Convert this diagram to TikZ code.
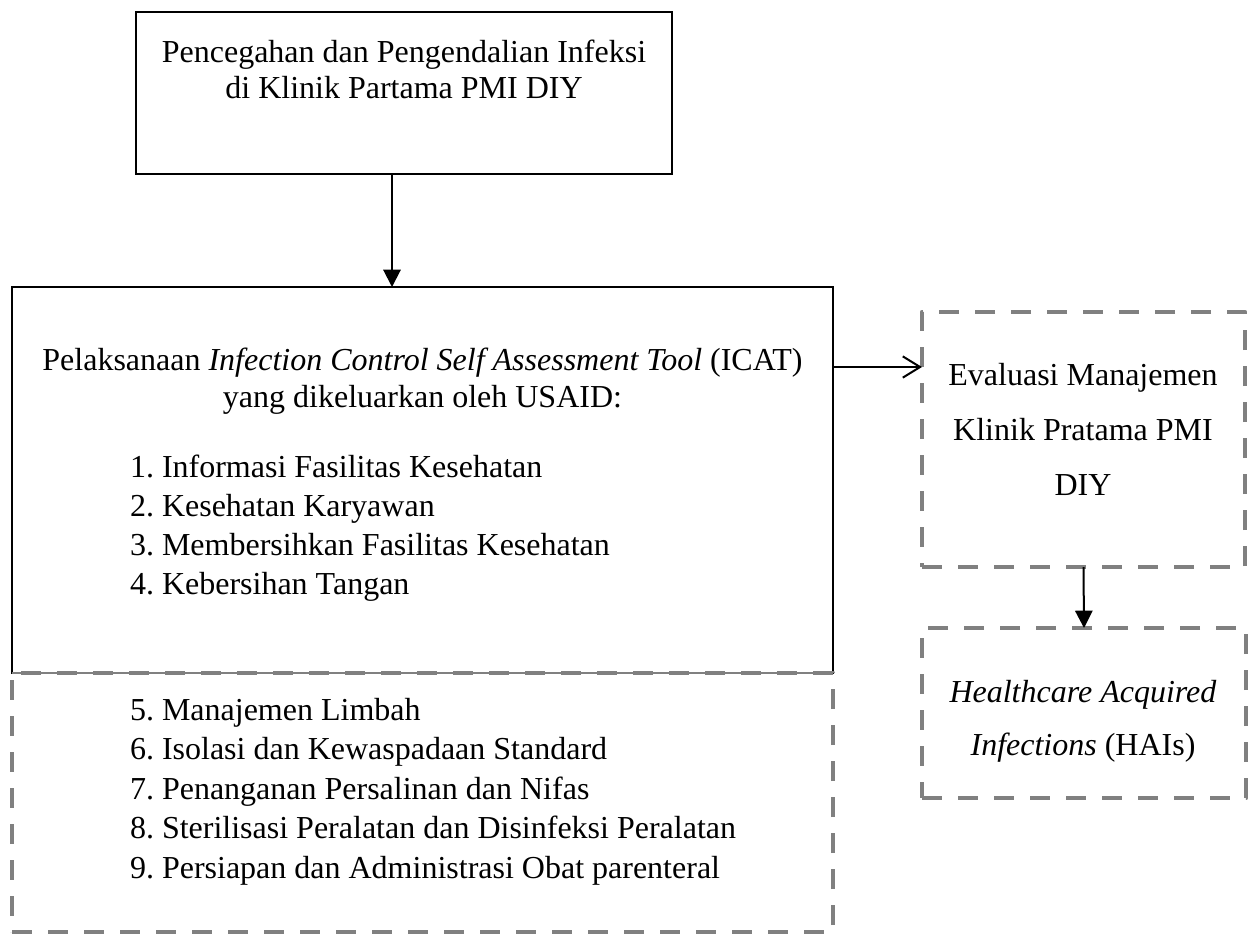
\documentclass[tikz,border=0pt]{standalone}
\usepackage{fontspec}
\setmainfont{Liberation Serif}
\usetikzlibrary{arrows.meta}
\definecolor{dashgray}{HTML}{808080}
\frenchspacing
\begin{document}
\begin{tikzpicture}[x=0.75pt,y=-0.75pt,
  every node/.style={font=\fontsize{24}{30}\selectfont, inner sep=0pt, outer sep=0pt},
  solidbox/.style={draw=black, line width=1.4pt, rectangle},
  dashbox/.style={draw=dashgray, line width=3.6pt, dash pattern=on 15pt off 12pt, line join=round, rectangle},
  fillarrow/.style={line width=1.5pt, -{Triangle[length=13pt,width=13pt]}},
  openarrow/.style={line width=1.5pt, -{Straight Barb[length=13pt,width=16pt,line width=1.5pt]}},
  line/.style={anchor=base},
  item/.style={anchor=base west}]
\useasboundingbox (0,0) rectangle (1256,933);
% boxes
\node[solidbox, minimum width=402pt, minimum height=121.5pt] (top) at (404,93) {};
\node[solidbox, minimum width=615.75pt, minimum height=289.5pt] (icat) at (422.5,480) {};
\draw[white, line width=2pt] (icat.south west) -- (icat.south east);
\draw[dashgray, line width=0.8pt] (icat.south west) -- (icat.south east);
\node[dashbox, minimum width=615.75pt, minimum height=194.25pt] (lower) at (422.5,802.5) {};
\node[dashbox, minimum width=242.25pt, minimum height=191.25pt] (eval) at (1083.5,439.5) {};
\node[dashbox, minimum width=243pt, minimum height=127.5pt] (hai) at (1084,713) {};
% texts
\node[line] (t1) at (404,62) {Pencegahan dan Pengendalian Infeksi};
\node[line] (t2) at (404,98) {di Klinik Partama PMI DIY};
\node[line] (p1) at (422.5,370) {Pelaksanaan \textit{Infection Control Self Assessment Tool} (ICAT)};
\node[line] (p2) at (422.5,407) {yang dikeluarkan oleh USAID:};
\node[item] (i1) at (130,477) {1. Informasi Fasilitas Kesehatan};
\node[item] (i2) at (130,516) {2. Kesehatan Karyawan};
\node[item] (i3) at (130,555) {3. Membersihkan Fasilitas Kesehatan};
\node[item] (i4) at (130,594) {4. Kebersihan Tangan};
\node[item] (i5) at (130,720) {5. Manajemen Limbah};
\node[item] (i6) at (130,759.5) {6. Isolasi dan Kewaspadaan Standard};
\node[item] (i7) at (130,799) {7. Penanganan Persalinan dan Nifas};
\node[item] (i8) at (130,838.5) {8. Sterilisasi Peralatan dan Disinfeksi Peralatan};
\node[item] (i9) at (130,878) {9. Persiapan dan Administrasi Obat parenteral};
\node[line] (e1) at (1083,385) {Evaluasi Manajemen};
\node[line] (e2) at (1083,440) {Klinik Pratama PMI};
\node[line] (e3) at (1083,495) {DIY};
\node[line] (h1) at (1083,702) {\textit{Healthcare Acquired}};
\node[line] (h2) at (1083,755) {\textit{Infections} (HAIs)};
% connectors
\coordinate (ya) at (0,367);
\coordinate (xa) at (392,0);
\draw[fillarrow] (top.south -| xa) -- (icat.north -| xa);
\draw[openarrow] (icat.east |- ya) -- (eval.west |- ya);
\draw[fillarrow] (eval.south) -- (hai.north);
\end{tikzpicture}
\end{document}
